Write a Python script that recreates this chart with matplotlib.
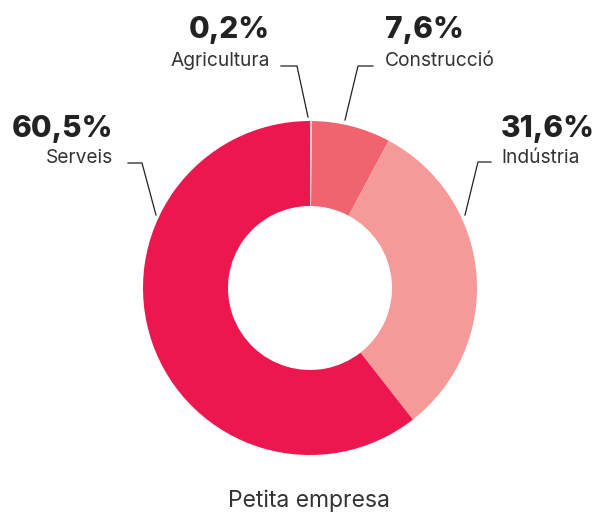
import matplotlib
matplotlib.use("Agg")
import matplotlib.pyplot as plt

# sector shares (%), clockwise from 12 o'clock
sectors = ["Agricultura", "Construcció", "Indústria", "Serveis"]
shares = [0.2, 7.6, 31.6, 60.5]
share_labels = ["0,2%", "7,6%", "31,6%", "60,5%"]
colors = ["#f9c4c4", "#f0646f", "#f59a98", "#ed1750"]
title = "Petita empresa"

W, H = 597, 513
fig = plt.figure(figsize=(W / 100., H / 100.), dpi=100)
ax = fig.add_axes([0, 0, 1, 1])

# donut, drawn in pixel-like data coords (y pointing down)
cx, cy, R = 310, 288, 167
ax.pie(shares, colors=colors, startangle=-90, counterclock=True,
       center=(cx, cy), radius=R,
       wedgeprops=dict(width=85, edgecolor="none"))
ax.set_xlim(0, W)
ax.set_ylim(H, 0)
ax.axis("off")

# label layout: (text x, pct baseline, name baseline, align, leader polyline)
layout = {
    "Agricultura": (270, 38, 66, "right", [(308, 117), (297, 66), (281, 66)]),
    "Construcció": (385, 38, 66, "left", [(345, 120), (358, 66), (373, 66)]),
    "Indústria": (501, 137, 163, "left", [(465, 215), (478, 162), (491, 162)]),
    "Serveis": (113, 137, 163, "right", [(156, 215), (142, 163), (128, 163)]),
}

for name, pct in zip(sectors, share_labels):
    x, ypct, yname, ha, line = layout[name]
    ax.text(x, ypct, pct, ha=ha, va="baseline", fontsize=21.5,
            fontweight="heavy", family="Inter", color="#222222")
    ax.text(x, yname, name, ha=ha, va="baseline", fontsize=13.8,
            family="Inter", color="#333333")
    xs, ys = zip(*line)
    ax.plot(xs, ys, color="#222222", lw=0.9)

ax.text(309, 507, title, ha="center", va="baseline", fontsize=16.5,
        family="Inter", color="#333333")

plt.savefig("out.png", dpi=100)
